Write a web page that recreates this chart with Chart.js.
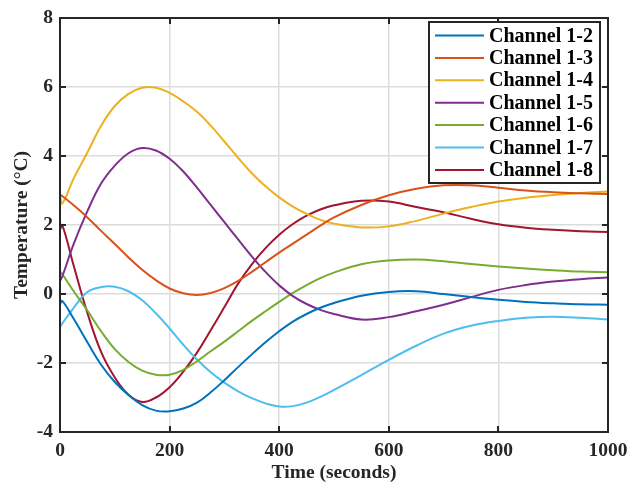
<!DOCTYPE html>
<html>
<head>
<meta charset="utf-8">
<script src="https://cdn.jsdelivr.net/npm/chart.js@4.4.1/dist/chart.umd.min.js"></script>
<style>
  html, body { margin: 0; padding: 0; background: #ffffff; }
  #c { display: block; }
</style>
</head>
<body>
<canvas id="c" width="629" height="487"></canvas>
<script>
// Sample times (s)
const times = [0, 4, 25, 50, 75, 100, 125, 150, 175, 200, 225, 250, 275, 300, 325, 350, 375, 400, 425, 450, 475, 500, 550, 600, 650, 700, 750, 800, 850, 900, 950, 1000];

// Temperature per channel (°C)
const ch12 = [-0.3, -0.2, -0.72, -1.4, -2.05, -2.55, -2.93, -3.22, -3.38, -3.4, -3.32, -3.15, -2.85, -2.5, -2.12, -1.75, -1.4, -1.08, -0.8, -0.58, -0.4, -0.26, -0.05, 0.06, 0.08, 0.0, -0.09, -0.17, -0.23, -0.27, -0.3, -0.31];
const ch13 = [2.88, 2.84, 2.57, 2.22, 1.83, 1.45, 1.06, 0.7, 0.4, 0.16, 0.02, -0.03, 0.03, 0.17, 0.38, 0.64, 0.92, 1.2, 1.46, 1.72, 1.98, 2.22, 2.58, 2.86, 3.05, 3.15, 3.15, 3.08, 3.0, 2.95, 2.92, 2.9];
const ch14 = [2.9, 2.62, 3.35, 4.1, 4.88, 5.45, 5.8, 5.98, 5.98, 5.83, 5.58, 5.28, 4.88, 4.42, 3.95, 3.5, 3.12, 2.8, 2.53, 2.32, 2.15, 2.04, 1.93, 1.96, 2.12, 2.33, 2.52, 2.68, 2.79, 2.87, 2.93, 2.97];
const ch15 = [0.38, 0.5, 1.45, 2.4, 3.2, 3.72, 4.08, 4.23, 4.16, 3.92, 3.55, 3.08, 2.58, 2.08, 1.58, 1.09, 0.64, 0.25, -0.06, -0.29, -0.46, -0.58, -0.74, -0.67, -0.5, -0.31, -0.09, 0.12, 0.26, 0.36, 0.43, 0.48];
const ch16 = [0.65, 0.58, 0.08, -0.48, -1.08, -1.6, -1.97, -2.22, -2.34, -2.34, -2.2, -1.95, -1.66, -1.38, -1.08, -0.78, -0.5, -0.23, 0.03, 0.26, 0.46, 0.62, 0.86, 0.97, 1.0, 0.95, 0.87, 0.8, 0.74, 0.69, 0.65, 0.63];
const ch17 = [-0.96, -0.86, -0.4, 0.06, 0.2, 0.21, 0.08, -0.18, -0.56, -1.0, -1.47, -1.9, -2.27, -2.57, -2.82, -3.02, -3.17, -3.26, -3.25, -3.15, -2.98, -2.78, -2.35, -1.91, -1.5, -1.15, -0.92, -0.78, -0.69, -0.66, -0.69, -0.74];
const ch18 = [1.85, 2.0, 0.82, -0.55, -1.68, -2.42, -2.92, -3.13, -3.0, -2.7, -2.25, -1.7, -1.05, -0.38, 0.3, 0.86, 1.33, 1.72, 2.03, 2.27, 2.45, 2.57, 2.7, 2.68, 2.52, 2.37, 2.18, 2.02, 1.92, 1.86, 1.82, 1.8];

const seriesNames = ['Channel 1-2', 'Channel 1-3', 'Channel 1-4', 'Channel 1-5', 'Channel 1-6', 'Channel 1-7', 'Channel 1-8'];
const seriesValues = [ch12, ch13, ch14, ch15, ch16, ch17, ch18];
const seriesColors = ['#0072BD', '#D95319', '#EDB120', '#7E2F8E', '#77AC30', '#4DBEEE', '#A2142F'];

const xTicks = [0, 200, 400, 600, 800, 1000];
const yTicks = [-4, -2, 0, 2, 4, 6, 8];

const FONT = "'Liberation Serif', 'Times New Roman', serif";
const AXIS_COLOR = '#262626';

// Box frame, inward tick marks and the legend panel
const framePlugin = {
  id: 'frame',
  afterDatasetsDraw(chart) {
    const { ctx, chartArea: a, scales } = chart;
    const tl = 6;
    ctx.save();
    ctx.strokeStyle = AXIS_COLOR;
    ctx.lineWidth = 2;
    ctx.beginPath();
    scales.x.ticks.forEach(t => {
      const px = Math.round(scales.x.getPixelForValue(t.value));
      ctx.moveTo(px, a.bottom); ctx.lineTo(px, a.bottom - tl);
      ctx.moveTo(px, a.top); ctx.lineTo(px, a.top + tl);
    });
    scales.y.ticks.forEach(t => {
      const py = Math.round(scales.y.getPixelForValue(t.value));
      ctx.moveTo(a.left, py); ctx.lineTo(a.left + tl, py);
      ctx.moveTo(a.right, py); ctx.lineTo(a.right - tl, py);
    });
    ctx.stroke();
    ctx.strokeRect(a.left, a.top, a.right - a.left, a.bottom - a.top);

    // legend
    const ds = chart.data.datasets;
    const bw = 171, rowH = 22.4;
    const bh = 161;
    const bx = a.right - 8 - bw;
    const by = a.top + 4;
    ctx.fillStyle = '#ffffff';
    ctx.fillRect(bx, by, bw, bh);
    ctx.strokeRect(bx, by, bw, bh);
    ctx.font = "bold 20px " + FONT;
    ctx.textBaseline = 'middle';
    ctx.textAlign = 'left';
    ds.forEach((d, i) => {
      const cy = by + 13.5 + i * rowH;
      ctx.strokeStyle = d.borderColor;
      ctx.lineWidth = 2;
      ctx.beginPath();
      ctx.moveTo(bx + 6, cy);
      ctx.lineTo(bx + 55, cy);
      ctx.stroke();
      ctx.fillStyle = '#000000';
      ctx.fillText(d.label, bx + 60, cy + 1);
    });
    ctx.restore();
  }
};

const datasets = seriesNames.map((name, i) => ({
  label: name,
  data: times.map((t, j) => ({ x: t, y: seriesValues[i][j] })),
  borderColor: seriesColors[i],
  backgroundColor: seriesColors[i],
  borderWidth: 2,
  pointRadius: 0,
  tension: 0.4,
  fill: false
}));

new Chart(document.getElementById('c'), {
  type: 'line',
  data: { datasets },
  plugins: [framePlugin],
  options: {
    responsive: false,
    animation: false,
    events: [],
    layout: { padding: { top: 18, right: 21, left: 0, bottom: 0 } },
    plugins: { legend: { display: false }, tooltip: { enabled: false } },
    scales: {
      x: {
        type: 'linear',
        min: 0, max: 1000,
        afterBuildTicks: s => { s.ticks = xTicks.map(v => ({ value: v })); },
        afterFit: s => { s.height = 55; s.paddingLeft = 0; s.paddingRight = 0; },
        grid: { color: '#dcdcdc', lineWidth: 1.5, drawTicks: false },
        border: { display: false },
        ticks: { color: '#262626', padding: 7, maxRotation: 0, callback: v => String(v), font: { family: FONT, size: 19.5, weight: 'bold' } },
        title: { display: true, text: 'Time (seconds)', color: '#262626', padding: { top: 0, bottom: 2 }, font: { family: FONT, size: 19.5, weight: 'bold' } }
      },
      y: {
        type: 'linear',
        min: -4, max: 8,
        afterBuildTicks: s => { s.ticks = yTicks.map(v => ({ value: v })); },
        afterFit: s => { s.width = 60; s.paddingTop = 0; s.paddingBottom = 0; },
        grid: { color: '#dcdcdc', lineWidth: 1.5, drawTicks: false },
        border: { display: false },
        ticks: { color: '#262626', padding: 7, callback: v => String(v), font: { family: FONT, size: 19.5, weight: 'bold' } },
        title: { display: true, text: 'Temperature (°C)', color: '#262626', padding: { top: 10, bottom: 0 }, font: { family: FONT, size: 19.5, weight: 'bold' } }
      }
    }
  }
});
</script>
</body>
</html>
